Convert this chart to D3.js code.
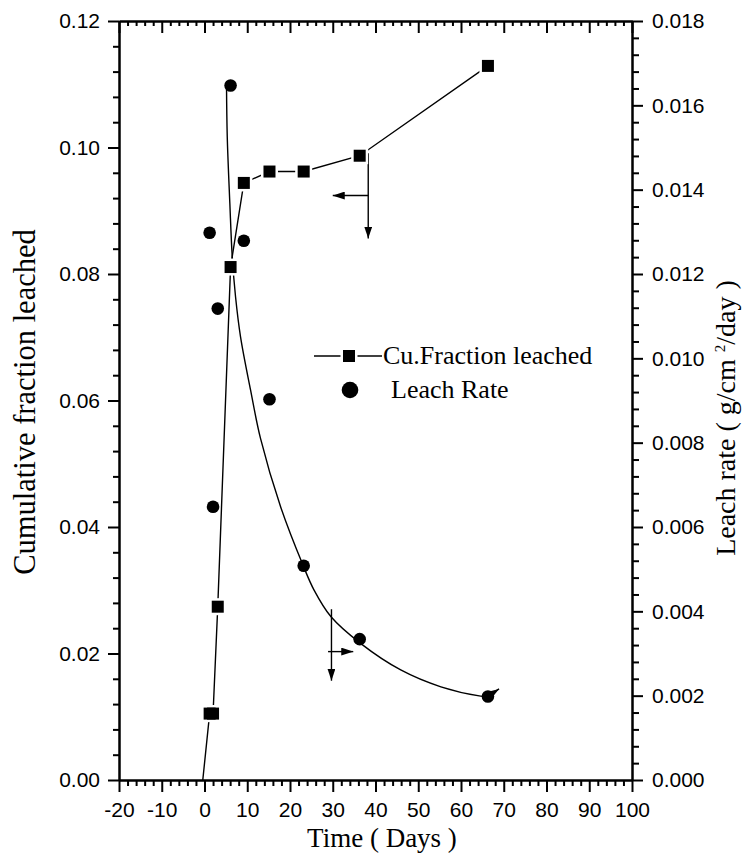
<!DOCTYPE html>
<html>
<head>
<meta charset="utf-8">
<script src="https://cdn.jsdelivr.net/npm/d3@7/dist/d3.min.js"></script>
<style>
  html, body { margin: 0; padding: 0; background: #fff; }
  svg { display: block; }
  text { white-space: pre; }
</style>
</head>
<body>
<svg id="chart" width="748" height="854"></svg>
<script>
// Leaching test: cumulative Cu fraction (left axis) and leach rate (right axis)
const days = [1.2, 2.0, 3.1, 6.1, 9.2, 15.2, 23.2, 36.3, 66.3];
const fractionLeached = [0.0105, 0.0105, 0.0274, 0.0811, 0.0944, 0.0962, 0.0962, 0.0987, 0.1129];
const leachRate = [0.01298, 0.00648, 0.01118, 0.01647, 0.01279, 0.00903, 0.00508, 0.00334, 0.00198];

// the cumulative line starts on the time axis
const fractionOrigin = { day: -0.4, value: 0 };

// fitted leach-rate curve
const fitDays = [5.15, 5.32, 5.93, 6.49, 7.26, 8.43, 10.77, 13.1, 17.8, 23.1, 25.6, 29.6, 36.5, 45.9, 55.3, 64.6, 66.2];
const fitRate = [0.01649, 0.01526, 0.01367, 0.01241, 0.01146, 0.01051, 0.00925, 0.0081, 0.00648, 0.00508, 0.00451, 0.00387, 0.00324, 0.00261, 0.00221, 0.00199, 0.00198];

// axis ticks
const xTicks = [-20, -10, 0, 10, 20, 30, 40, 50, 60, 70, 80, 90, 100];
const leftTicks = [0, 0.02, 0.04, 0.06, 0.08, 0.10, 0.12];
const rightTicks = [0, 0.002, 0.004, 0.006, 0.008, 0.010, 0.012, 0.014, 0.016, 0.018];

// arrows pointing each series to its axis (day, fraction units)
const axisArrows = [
  { x1: 38.3, y1: 0.0991, x2: 38.3, y2: 0.0856 },
  { x1: 38.3, y1: 0.0924, x2: 30.0, y2: 0.0924 },
  { x1: 29.7, y1: 0.0270, x2: 29.7, y2: 0.0157 },
  { x1: 28.9, y1: 0.0203, x2: 34.8, y2: 0.0203 }
];

const legendItems = ["Cu.Fraction leached", "Leach Rate"];

const svg = d3.select("#chart");
const L = 119, R = 632, T = 21, B = 780;

const x = d3.scaleLinear().domain([-20, 100]).range([L, R]);
const yL = d3.scaleLinear().domain([0, 0.12]).range([B, T]);
const yR = d3.scaleLinear().domain([0, 0.018]).range([B, T]);

const sansFont = "'Liberation Sans', Arial, sans-serif";
const serifFont = "'Liberation Serif', 'Times New Roman', serif";

const defs = svg.append("defs");
defs.append("marker")
  .attr("id", "arrowHead")
  .attr("viewBox", "0 0 12 8")
  .attr("refX", 12).attr("refY", 4)
  .attr("markerWidth", 12).attr("markerHeight", 8)
  .attr("markerUnits", "userSpaceOnUse")
  .attr("orient", "auto")
  .append("path").attr("d", "M0,0 L12,4 L0,8 Z").attr("fill", "#000");

function styleAxis(g) {
  g.select(".domain").attr("stroke", "#000").attr("stroke-width", 2);
  g.selectAll(".tick line").attr("stroke", "#000").attr("stroke-width", 2);
  g.selectAll(".tick text").attr("fill", "#000")
    .style("font-family", sansFont).style("font-size", "21px");
}

const xMinor = d3.range(-20, 101, 2).filter(v => v % 10 !== 0);
const leftMinor = d3.range(0, 31).filter(i => i % 5 !== 0).map(i => i * 0.004);
const rightMinor = d3.range(0, 46).filter(i => i % 5 !== 0).map(i => i * 0.0004);

// bottom axis
svg.append("g").attr("transform", `translate(0,${B})`)
  .call(d3.axisBottom(x).tickValues(xMinor).tickSize(6).tickSizeOuter(0).tickFormat(""))
  .call(styleAxis);
svg.append("g").attr("transform", `translate(0,${B})`)
  .call(d3.axisBottom(x).tickValues(xTicks).tickSize(12).tickSizeOuter(0).tickPadding(10).tickFormat(d => String(d)))
  .call(styleAxis);

// top frame
svg.append("g").attr("transform", `translate(0,${T})`)
  .call(d3.axisTop(x).tickValues(xMinor).tickSize(-5).tickSizeOuter(0).tickFormat(""))
  .call(styleAxis);
svg.append("g").attr("transform", `translate(0,${T})`)
  .call(d3.axisTop(x).tickValues(xTicks).tickSize(-12).tickSizeOuter(0).tickFormat(""))
  .call(styleAxis);

// left axis
svg.append("g").attr("transform", `translate(${L},0)`)
  .call(d3.axisLeft(yL).tickValues(leftMinor).tickSize(6).tickSizeOuter(0).tickFormat(""))
  .call(styleAxis);
svg.append("g").attr("transform", `translate(${L},0)`)
  .call(d3.axisLeft(yL).tickValues(leftTicks).tickSize(11).tickSizeOuter(0).tickPadding(8).tickFormat(d3.format(".2f")))
  .call(styleAxis);

// right axis
svg.append("g").attr("transform", `translate(${R},0)`)
  .call(d3.axisRight(yR).tickValues(rightMinor).tickSize(7).tickSizeOuter(0).tickFormat(""))
  .call(styleAxis);
svg.append("g").attr("transform", `translate(${R},0)`)
  .call(d3.axisRight(yR).tickValues(rightTicks).tickSize(11).tickSizeOuter(0).tickPadding(9).tickFormat(d3.format(".3f")))
  .call(styleAxis);

// axis titles
svg.append("text")
  .attr("x", 382).attr("y", 847)
  .attr("text-anchor", "middle")
  .style("font-family", serifFont).style("font-size", "27px")
  .text("Time ( Days )");

svg.append("text")
  .attr("transform", "translate(35,402) rotate(-90)")
  .attr("text-anchor", "middle")
  .style("font-family", serifFont).style("font-size", "30.5px")
  .text("Cumulative fraction leached");

const rTitle = svg.append("text")
  .attr("transform", "translate(735,418) rotate(-90)")
  .attr("text-anchor", "middle")
  .style("font-family", serifFont).style("font-size", "28px");
rTitle.append("tspan").text("Leach rate ( g/cm ");
rTitle.append("tspan").attr("dy", -10).style("font-size", "15px").text("2");
rTitle.append("tspan").attr("dy", 10).text("/day )");

// fitted rate curve
const fitPts = fitDays.map((d, i) => [x(d), yR(fitRate[i])]);
svg.append("path")
  .attr("d", d3.line().curve(d3.curveCatmullRom.alpha(0.5))(fitPts))
  .attr("fill", "none").attr("stroke", "#000").attr("stroke-width", 1.4);

// cumulative fraction line
const fracPts = [[x(fractionOrigin.day), yL(fractionOrigin.value)]]
  .concat(days.map((d, i) => [x(d), yL(fractionLeached[i])]));
svg.append("path")
  .attr("d", d3.line()(fracPts))
  .attr("fill", "none").attr("stroke", "#000").attr("stroke-width", 1.4);

// arrows
svg.selectAll(".axis-arrow").data(axisArrows).join("line")
  .attr("class", "axis-arrow")
  .attr("x1", d => x(d.x1)).attr("y1", d => yL(d.y1))
  .attr("x2", d => x(d.x2)).attr("y2", d => yL(d.y2))
  .attr("stroke", "#000").attr("stroke-width", 1.4)
  .attr("marker-end", "url(#arrowHead)");

// square markers with white gap around them
const sq = 12, halo = 17;
const squares = svg.append("g");
days.forEach((d, i) => {
  squares.append("rect")
    .attr("x", x(d) - halo / 2).attr("y", yL(fractionLeached[i]) - halo / 2)
    .attr("width", halo).attr("height", halo).attr("fill", "#fff");
});
days.forEach((d, i) => {
  squares.append("rect")
    .attr("x", x(d) - sq / 2).attr("y", yL(fractionLeached[i]) - sq / 2)
    .attr("width", sq).attr("height", sq).attr("fill", "#000");
});

// leach rate circles
svg.append("g").selectAll("circle").data(days).join("circle")
  .attr("cx", d => x(d)).attr("cy", (d, i) => yR(leachRate[i]))
  .attr("r", 6.3).attr("fill", "#000");

// small head at the end of the fit
svg.append("line")
  .attr("x1", x(66.2)).attr("y1", yR(0.00198))
  .attr("x2", x(68.9)).attr("y2", yR(0.00216))
  .attr("stroke", "#000").attr("stroke-width", 1.4)
  .attr("marker-end", "url(#arrowHead)");

// legend
const lg = svg.append("g");
lg.append("line").attr("x1", 314).attr("x2", 382).attr("y1", 356).attr("y2", 356)
  .attr("stroke", "#000").attr("stroke-width", 1.4);
lg.append("rect").attr("x", 349 - halo / 2).attr("y", 356 - halo / 2)
  .attr("width", halo).attr("height", halo).attr("fill", "#fff");
lg.append("rect").attr("x", 349 - sq / 2).attr("y", 356 - sq / 2)
  .attr("width", sq).attr("height", sq).attr("fill", "#000");
lg.append("text").attr("x", 383).attr("y", 364)
  .style("font-family", serifFont).style("font-size", "26px")
  .text(legendItems[0]);
lg.append("circle").attr("cx", 350).attr("cy", 390).attr("r", 8.3).attr("fill", "#000");
lg.append("text").attr("x", 391).attr("y", 398)
  .style("font-family", serifFont).style("font-size", "26px")
  .text(legendItems[1]);
</script>
</body>
</html>
